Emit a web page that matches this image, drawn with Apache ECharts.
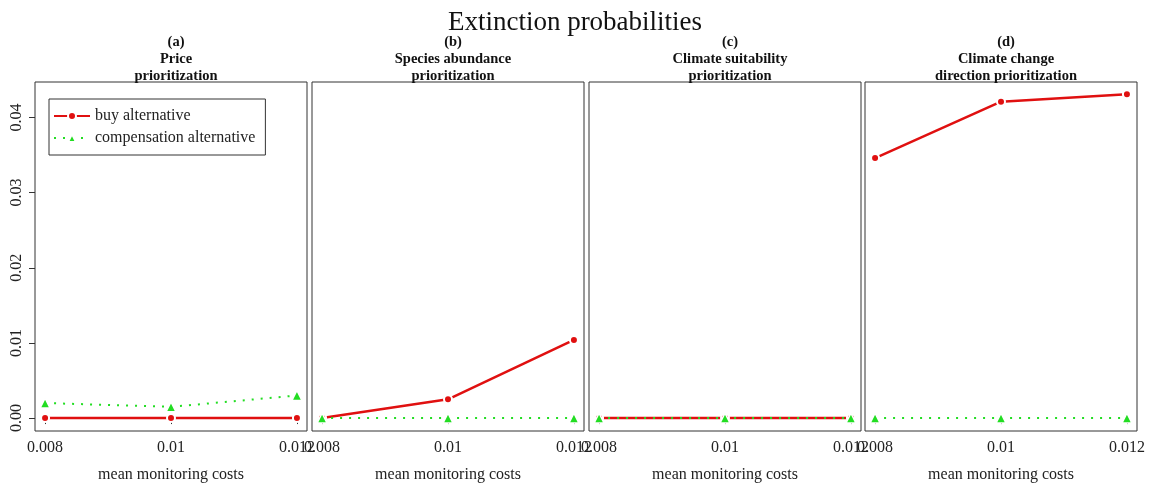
<!DOCTYPE html>
<html>
<head>
<meta charset="utf-8">
<script src="https://cdn.jsdelivr.net/npm/echarts@6/dist/echarts.min.js"></script>
<style>html,body{margin:0;padding:0;background:#fff;}#c{width:1151px;height:483px;}</style>
</head>
<body>
<div id="c"></div>
<script>
const costs = [0.008, 0.01, 0.012];
const xTickLabels = ['0.008', '0.01', '0.012'];
const yTicks = [0, 0.01, 0.02, 0.03, 0.04];
const yTickLabels = ['0.00', '0.01', '0.02', '0.03', '0.04'];
const panelTitles = ['(a)\nPrice\nprioritization', '(b)\nSpecies abundance\nprioritization', '(c)\nClimate suitability\nprioritization', '(d)\nClimate change\ndirection prioritization'];
const buyA = [0, 0, 0];
const compA = [0.002, 0.0015, 0.003];
const buyB = [0, 0.0025, 0.0104];
const compB = [0, 0, 0];
const buyC = [0, 0, 0];
const compC = [0, 0, 0];
const buyD = [0.0346, 0.0421, 0.0431];
const compD = [0, 0, 0];

const buyAll = [buyA, buyB, buyC, buyD];
const compAll = [compA, compB, compC, compD];
const RED = '#e01010';
const GREEN = '#22dd22';
const SERIF = '"Liberation Serif", "DejaVu Serif", serif';
const lefts = [35, 312, 589, 865];
const W = 272;

const grids = [], xAxes = [], yAxes = [], series = [], titles = [];
titles.push({text: 'Extinction probabilities', left: 570, top: 4, textAlign: 'center',
  textStyle: {fontFamily: SERIF, fontSize: 27, fontWeight: 'normal', color: '#111'}});
for (let i = 0; i < 4; i++) {
  grids.push({left: lefts[i], top: 82, width: W, height: 349, outerBoundsMode: 'none', containLabel: false,
    show: true, borderColor: '#333', borderWidth: 1, backgroundColor: 'transparent'});
  xAxes.push({type: 'value', gridIndex: i, min: 0.00784, max: 0.01216,
    name: 'mean monitoring costs', nameLocation: 'middle', nameGap: 36,
    nameTextStyle: {fontFamily: SERIF, fontSize: 16, color: '#222'},
    axisLine: {show: false}, splitLine: {show: false},
    axisTick: {show: true, inside: false, length: 6, customValues: costs, lineStyle: {color: '#333'}},
    axisLabel: {show: true, margin: 9, customValues: costs, fontFamily: SERIF, fontSize: 16, color: '#222',
      formatter: v => xTickLabels[costs.findIndex(c => Math.abs(c - v) < 1e-9)]}
  });
  yAxes.push({type: 'value', gridIndex: i, min: -0.00172, max: 0.04472,
    show: i === 0, axisLine: {show: false}, splitLine: {show: false},
    axisTick: {show: true, length: 6, customValues: yTicks, lineStyle: {color: '#333'}},
    axisLabel: {show: true, rotate: 90, margin: 10, customValues: yTicks, fontFamily: SERIF, fontSize: 16, color: '#222',
      formatter: v => yTickLabels[yTicks.findIndex(t => Math.abs(t - v) < 1e-9)]}
  });
  titles.push({text: panelTitles[i], left: lefts[i] + W / 2, top: 29, textAlign: 'center',
    textStyle: {fontFamily: SERIF, fontSize: 14.5, fontWeight: 'bold', color: '#111', lineHeight: 17}});
  series.push({name: 'buy alternative', type: 'line', xAxisIndex: i, yAxisIndex: i,
    data: costs.map((c, k) => [c, buyAll[i][k]]),
    symbol: 'circle', symbolSize: 8, showAllSymbol: true,
    itemStyle: {color: RED, borderColor: '#fff', borderWidth: 2},
    lineStyle: {color: RED, width: 2.5}, emphasis: {disabled: true}, z: 2});
  series.push({name: 'compensation alternative', type: 'line', xAxisIndex: i, yAxisIndex: i,
    data: costs.map((c, k) => [c, compAll[i][k]]),
    symbol: 'triangle', symbolSize: 10, showAllSymbol: true,
    itemStyle: {color: GREEN, borderColor: '#fff', borderWidth: 1.5},
    lineStyle: {color: GREEN, width: 2, type: [2, 7], cap: 'butt'}, emphasis: {disabled: true}, z: 3});
}

const chart = echarts.init(document.getElementById('c'), null, {renderer: 'canvas'});
chart.setOption({
  animation: false,
  backgroundColor: '#fff',
  title: titles,
  grid: grids,
  xAxis: xAxes,
  yAxis: yAxes,
  legend: {orient: 'vertical', left: 49, top: 99, padding: [9, 10, 9, 4],
    borderColor: '#333', borderWidth: 1, borderRadius: 0, itemWidth: 36, itemHeight: 10, itemGap: 6,
    data: ['buy alternative', 'compensation alternative'],
    textStyle: {fontFamily: SERIF, fontSize: 16, color: '#222'}},
  series: series
});
</script>
</body>
</html>
